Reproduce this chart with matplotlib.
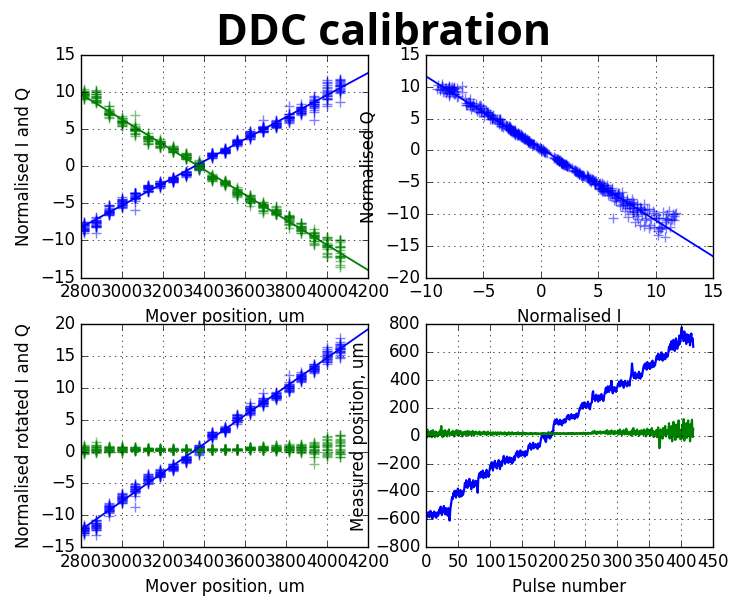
import numpy as np
import matplotlib.pyplot as plt

plt.style.use('classic')

# mover positions (um), one per calibration step
mover_pos = [2812.5, 2875, 2937.5, 3000, 3062.5, 3125, 3187.5, 3250, 3312.5,
             3375, 3437.5, 3500, 3562.5, 3625, 3687.5, 3750, 3812.5, 3875,
             3937.5, 4000, 4062.5]
pulses_per_step = 20

# measured position along the mover axis (um), one row per step
meas_pos = [
    [-605, -590, -560, -575, -550, -585, -565, -540, -580, -560, -595, -555, -570, -545, -580, -560, -590, -565, -550, -575],
    [-560, -530, -555, -510, -545, -570, -525, -550, -505, -540, -565, -520, -550, -535, -575, -520, -545, -610, -540, -500],
    [-470, -440, -455, -410, -430, -395, -425, -445, -400, -420, -380, -430, -410, -440, -390, -415, -435, -400, -425, -405],
    [-380, -340, -365, -320, -355, -375, -330, -350, -310, -360, -345, -385, -335, -355, -320, -370, -340, -360, -325, -350],
    [-330, -410, -310, -285, -270, -300, -260, -295, -280, -250, -305, -275, -290, -265, -300, -245, -285, -270, -295, -260],
    [-240, -210, -230, -190, -220, -250, -200, -215, -180, -225, -205, -235, -195, -210, -175, -220, -240, -200, -185, -215],
    [-190, -160, -145, -175, -200, -165, -185, -150, -180, -195, -170, -155, -190, -175, -160, -200, -170, -185, -150, -175],
    [-150, -125, -140, -110, -135, -155, -120, -130, -105, -145, -125, -135, -115, -140, -120, -150, -110, -130, -140, -120],
    [-95, -70, -85, -55, -80, -100, -65, -75, -50, -90, -70, -80, -60, -85, -75, -95, -55, -70, -80, -60],
    [-30, -10, 15, -5, 20, -20, 5, -35, -45, -15, 10, -5, 25, 0, -20, 15, -10, 30, 5, 20],
    [70, 95, 110, 85, 100, 120, 90, 105, 80, 95, 115, 85, 100, 75, 110, 90, 105, 120, 95, 100],
    [120, 140, 125, 150, 130, 115, 145, 135, 155, 125, 140, 130, 150, 120, 145, 135, 160, 130, 140, 150],
    [175, 200, 190, 220, 205, 235, 195, 215, 240, 210, 225, 200, 230, 215, 245, 205, 225, 190, 220, 235],
    [240, 300, 320, 265, 285, 250, 275, 295, 260, 280, 245, 290, 270, 255, 285, 300, 265, 280, 250, 275],
    [300, 320, 345, 310, 330, 355, 325, 315, 340, 360, 330, 395, 320, 305, 335, 350, 325, 345, 315, 335],
    [350, 375, 365, 390, 355, 380, 400, 370, 360, 385, 345, 375, 395, 365, 380, 355, 370, 390, 375, 360],
    [400, 420, 450, 520, 470, 430, 415, 440, 455, 410, 435, 425, 445, 415, 460, 430, 410, 445, 425, 440],
    [470, 495, 510, 485, 520, 500, 475, 530, 505, 490, 515, 480, 525, 500, 490, 540, 510, 495, 520, 505],
    [535, 560, 575, 550, 590, 565, 545, 580, 555, 600, 570, 540, 585, 560, 575, 550, 595, 565, 580, 570],
    [600, 640, 615, 660, 630, 680, 620, 655, 690, 635, 610, 665, 700, 645, 625, 675, 650, 720, 660, 690],
    [740, 780, 700, 720, 680, 750, 690, 710, 660, 730, 700, 675, 725, 690, 650, 710, 735, 680, 700, 640],
]

# measured position perpendicular to the mover axis (um)
meas_perp = [
    [20, -15, 45, 10, 30, -5, 25, 5, 35, -10, 15, 40, 0, 20, -10, 30, 10, 25, -5, 15],
    [10, 30, 5, 45, 70, 20, -10, 35, 15, 0, 40, 10, 25, -5, 30, 15, 45, 5, 20, 10],
    [25, 5, 35, 15, -5, 30, 10, 20, 40, 5, 25, 0, 30, 15, 35, 10, 20, -5, 25, 15],
    [15, 30, 5, 25, 10, 35, 0, 20, 30, 10, 25, 5, 20, 35, 15, 0, 25, 10, 30, 20],
    [20, 10, 25, 15, 30, 5, 20, 10, 25, 15, 20, 30, 10, 25, 15, 5, 20, 30, 15, 10],
    [15, 25, 10, 20, 5, 25, 15, 20, 10, 25, 15, 5, 20, 25, 10, 20, 15, 25, 10, 20],
    [20, 10, 15, 25, 10, 20, 15, 5, 20, 15, 25, 10, 15, 20, 10, 25, 15, 10, 20, 15],
    [15, 20, 10, 15, 25, 15, 10, 20, 15, 10, 20, 15, 25, 10, 15, 20, 10, 15, 20, 15],
    [15, 10, 18, 14, 20, 12, 16, 10, 18, 15, 12, 20, 14, 16, 10, 18, 15, 12, 17, 14],
    [14, 18, 12, 16, 15, 20, 13, 17, 15, 12, 18, 14, 16, 20, 12, 15, 18, 13, 16, 15],
    [16, 12, 18, 15, 20, 14, 17, 12, 16, 19, 14, 18, 15, 13, 17, 20, 15, 12, 18, 16],
    [15, 18, 12, 17, 14, 20, 16, 13, 18, 15, 20, 14, 17, 12, 16, 19, 15, 18, 14, 16],
    [18, 14, 20, 15, 12, 19, 16, 22, 14, 17, 12, 20, 16, 18, 13, 21, 15, 17, 20, 14],
    [20, 30, 15, 25, 35, 18, 28, 12, 22, 30, 16, 25, 20, 32, 15, 27, 22, 18, 30, 20],
    [25, 15, 35, 20, 40, 10, 28, 18, 32, 12, 25, 38, 15, 30, 20, 10, 35, 22, 15, 28],
    [20, 35, 10, 30, 45, 15, 25, 5, 35, 20, 40, 10, 28, 18, 50, 12, 30, 20, 8, 25],
    [15, 30, 0, 40, 20, 55, 10, 25, 35, 5, 30, 45, 15, 20, 0, 35, 25, 10, 40, 20],
    [30, 5, 45, 15, 35, -5, 25, 50, 10, 30, 20, 40, 0, 25, 55, 15, 35, -10, 20, 30],
    [10, 40, -10, 30, 60, 0, -90, -40, 45, 15, 35, -20, 55, 5, 30, 70, -5, 20, 40, 10],
    [30, 90, -20, 50, 10, 70, -40, 40, 100, 0, 60, -30, 80, 20, 55, -10, 110, 15, 45, -25],
    [40, -20, 75, 10, 120, -35, 60, 5, 90, -15, 45, 110, 0, 70, -40, 85, 20, 115, -10, 50],
]

# calibration constants
um_per_unit = 44.8
rot_offset_um = 20.0
iq_angle_deg = 49.3
i_offset = -0.45
q_offset = 0.2

pos_lim = (2800, 4200)

meas = np.array(meas_pos, dtype=float)
perp = np.array(meas_perp, dtype=float)
pos = np.repeat(mover_pos, pulses_per_step)

rot_i = ((meas + rot_offset_um) / um_per_unit).ravel()
rot_q = (perp / um_per_unit).ravel()
th = np.radians(iq_angle_deg)
norm_i = rot_i * np.cos(th) + rot_q * np.sin(th) + i_offset
norm_q = -rot_i * np.sin(th) + rot_q * np.cos(th) + q_offset
pulse = np.arange(meas.size)

fig = plt.figure(figsize=(7.31, 5.96), dpi=100, facecolor='white')
fig.subplots_adjust(left=0.1108, right=0.9754, bottom=0.0822, top=0.9077,
                    wspace=0.202, hspace=0.211)
ax1 = fig.add_subplot(2, 2, 1)
ax2 = fig.add_subplot(2, 2, 2)
ax3 = fig.add_subplot(2, 2, 3)
ax4 = fig.add_subplot(2, 2, 4)

mk = dict(alpha=0.5, markersize=7, markeredgewidth=1)
xs = np.array(pos_lim, dtype=float)

ax1.plot(pos, norm_i, 'b+', **mk)
ax1.plot(pos, norm_q, 'g+', **mk)
ax1.plot(xs, np.polyval(np.polyfit(pos, norm_i, 1), xs), 'b-', lw=1.3)
ax1.plot(xs, np.polyval(np.polyfit(pos, norm_q, 1), xs), 'g-', lw=1.3)
ax1.set_xlim(pos_lim)
ax1.set_ylim(-15, 15)
ax1.set_xlabel('Mover position, um')
ax1.set_ylabel('Normalised I and Q')

ix = np.array([-10, 15], dtype=float)
ax2.plot(norm_i, norm_q, 'b+', **mk)
ax2.plot(ix, np.polyval(np.polyfit(norm_i, norm_q, 1), ix), 'b-', lw=1.3)
ax2.set_xlim(-10, 15)
ax2.set_ylim(-20, 15)
ax2.set_xlabel('Normalised I')
ax2.set_ylabel('Normalised Q')

ax3.plot(pos, rot_i, 'b+', **mk)
ax3.plot(pos, rot_q, 'g+', **mk)
ax3.plot(xs, np.polyval(np.polyfit(pos, rot_i, 1), xs), 'b-', lw=1.3)
ax3.set_xlim(pos_lim)
ax3.set_ylim(-15, 20)
ax3.set_xlabel('Mover position, um')
ax3.set_ylabel('Normalised rotated I and Q')

ax4.plot(pulse, meas.ravel(), 'b-', lw=1.6)
ax4.plot(pulse, perp.ravel(), 'g-', lw=1.6)
ax4.set_xlim(0, 450)
ax4.set_ylim(-800, 800)
ax4.set_xlabel('Pulse number')
ax4.set_ylabel('Measured position, um')

for ax in (ax1, ax2, ax3, ax4):
    ax.grid(True)

fig.text(0.525, 0.9245, 'DDC calibration', ha='center', va='baseline',
         fontsize=31, fontweight='bold', family=['Open Sans', 'DejaVu Sans'])

fig.savefig('out.png', dpi=100, facecolor='white')
